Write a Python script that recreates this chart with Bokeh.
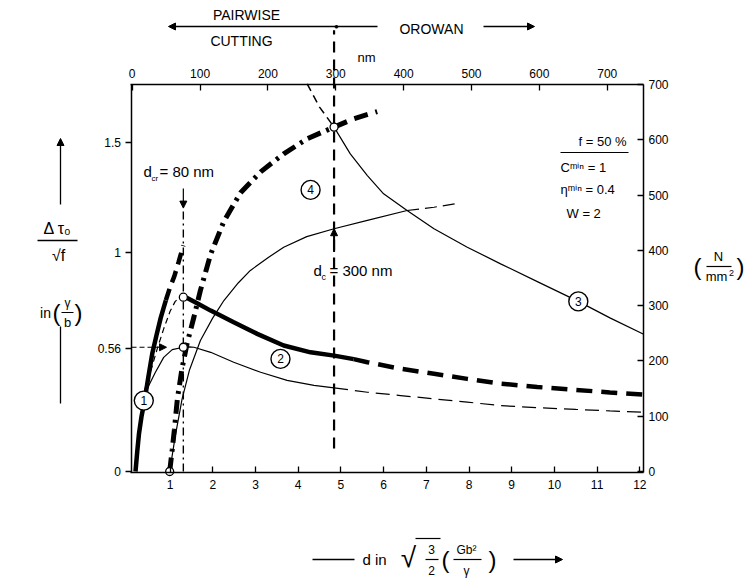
from bokeh.plotting import figure
from bokeh.models import (Range1d, LinearAxis, FixedTicker, Label, Arrow, NormalHead,
                          NumeralTickFormatter)
from bokeh.core.properties import value
from bokeh.embed import file_html
from bokeh.resources import INLINE

FONT = "Liberation Sans"

# ---------------- data ----------------
bottom_ticks = [1, 2, 3, 4, 5, 6, 7, 8, 9, 10, 11, 12]
top_nm_ticks = [0, 100, 200, 300, 400, 500, 600, 700]
left_ticks = [0, 0.56, 1, 1.5]
right_ticks = [0, 100, 200, 300, 400, 500, 600, 700]

# curve 1 (pairwise cutting, thick)
c1_solid_x = [0.19, 0.23, 0.27, 0.33, 0.40, 0.49, 0.58, 0.68, 0.78, 0.90]
c1_solid_y = [0.0, 0.09, 0.17, 0.25, 0.32, 0.43, 0.535, 0.62, 0.70, 0.78]
c1_dash_x = [0.90, 1.00, 1.10, 1.20, 1.31]
c1_dash_y = [0.78, 0.84, 0.89, 0.955, 1.03]

# curve 4 (thick dash-dot)
c4_x = [0.99, 1.05, 1.10, 1.17, 1.28, 1.40, 1.56, 1.71, 1.95, 2.26, 2.65, 3.12, 3.66, 4.21, 4.84]
c4_y = [0.0, 0.10, 0.19, 0.33, 0.47, 0.585, 0.705, 0.825, 0.99, 1.14, 1.27, 1.365, 1.447, 1.516, 1.569]
c4_dash_x = [4.84, 5.30, 5.85]
c4_dash_y = [1.569, 1.607, 1.64]

# thin rising curve
t_x = [0.99, 1.12, 1.28, 1.45, 1.71, 2.0, 2.26, 2.6, 2.88, 3.3, 3.66, 4.2, 4.84, 5.62, 6.55]
t_y = [0.0, 0.16, 0.33, 0.46, 0.597, 0.70, 0.779, 0.86, 0.916, 0.975, 1.022, 1.07, 1.106, 1.144, 1.189]
t_dash_x = [6.55, 7.18, 7.76]
t_dash_y = [1.189, 1.204, 1.222]

# curve 2 thick
c2_x = [1.31, 1.40, 1.60, 1.95, 2.49, 3.04, 3.66, 4.29, 4.84, 5.30]
c2_y = [0.794, 0.79, 0.77, 0.733, 0.68, 0.627, 0.574, 0.543, 0.528, 0.512]
c2_dash_x = [5.30, 5.62, 6.40, 7.18, 7.96, 8.74, 9.6, 10.5, 11.3, 12.09]
c2_dash_y = [0.512, 0.498, 0.468, 0.445, 0.422, 0.40, 0.385, 0.372, 0.36, 0.35]

# curve 2 thin
c2t_x = [1.31, 1.45, 1.56, 1.95, 2.49, 3.12, 3.74, 4.37, 4.84]
c2t_y = [0.566, 0.568, 0.566, 0.543, 0.498, 0.452, 0.415, 0.392, 0.381]
c2t_dash_x = [4.84, 5.62, 6.40, 7.18, 7.96, 8.74, 9.6, 10.5, 11.3, 12.09]
c2t_dash_y = [0.381, 0.361, 0.346, 0.331, 0.316, 0.30, 0.291, 0.283, 0.276, 0.27]

# curve 3 (Orowan)
c3_dash_x = [4.21, 4.50, 4.84]
c3_dash_y = [1.766, 1.66, 1.569]
c3_x = [4.84, 5.22, 5.62, 6.0, 6.55, 7.18, 7.96, 8.74, 9.6, 10.56, 11.3, 12.09]
c3_y = [1.569, 1.447, 1.348, 1.265, 1.189, 1.106, 1.022, 0.946, 0.865, 0.775, 0.70, 0.625]

# thin connectors from circle 1
k_dash_x = [0.40, 0.55, 0.70, 0.85, 1.00, 1.12, 1.22, 1.31]
k_dash_y = [0.37, 0.46, 0.56, 0.65, 0.73, 0.775, 0.79, 0.794]
k_sol_x = [0.42, 0.65, 0.85, 1.05, 1.31]
k_sol_y = [0.36, 0.45, 0.52, 0.555, 0.566]

# special points
pt_x = [1.31, 1.31, 0.99, 4.84]
pt_y = [0.794, 0.566, 0.0, 1.569]
d_crit_x = [1.31, 1.31]
d_crit_y = [0.0, 1.20]
d_c_x = [4.84, 4.84]
d_c_y = [0.105, 2.01]

num_x = [0.384, 3.585, 10.56, 4.29]
num_y = [0.323, 0.513, 0.775, 1.283]
num_t = ["1", "2", "3", "4"]

# ------------- geometry helpers (canvas px -> data, for annotation placement) -------------
X0PX, XS, Y0PX, YS = 126.9, 42.7, 471.0, 219.5
def cx(px):
    return (px - X0PX) / XS
def cy(py):
    return (Y0PX - py) / YS
def nm(px):
    return (px - 131.7) / 0.6786

TOP = cy(84)
NS = 700.0 / TOP
W, H = 749, 586

p = figure(width=W, height=H, output_backend="svg", toolbar_location=None,
           x_range=Range1d(cx(0), cx(W)), y_range=Range1d(cy(H), cy(0)),
           min_border=0, x_axis_location=None, y_axis_location=None)
p.grid.visible = False
p.outline_line_color = None
p.background_fill_color = "white"
p.border_fill_color = "white"
p.extra_x_ranges = {"nm": Range1d(nm(0), nm(W))}
p.extra_y_ranges = {"N": Range1d(cy(H) * NS, cy(0) * NS)}

def style_axis(ax, tin, tout, standoff=5):
    ax.axis_line_width = 1.5
    ax.axis_line_color = "black"
    ax.major_tick_in = tin
    ax.major_tick_out = tout
    ax.major_tick_line_width = 1.3
    ax.minor_tick_line_color = None
    ax.major_label_text_font = FONT
    ax.major_label_text_font_size = "12px"
    ax.major_label_text_color = "black"
    ax.major_label_standoff = standoff

xb = LinearAxis(ticker=FixedTicker(ticks=bottom_ticks), fixed_location=cy(471.5),
                bounds=(cx(130), cx(643)))
style_axis(xb, 6, 0, 8)
p.add_layout(xb, "below")
xt = LinearAxis(x_range_name="nm", ticker=FixedTicker(ticks=top_nm_ticks), fixed_location=TOP,
                bounds=(nm(130), nm(643)))
style_axis(xt, 6, 0, 7)
p.add_layout(xt, "above")
yl = LinearAxis(ticker=FixedTicker(ticks=left_ticks), formatter=NumeralTickFormatter(format="0.[00]"),
                fixed_location=cx(130.5), bounds=(cy(472), TOP))
style_axis(yl, 0, 6, 4)
p.add_layout(yl, "left")
yr = LinearAxis(y_range_name="N", ticker=FixedTicker(ticks=right_ticks), fixed_location=cx(643),
                bounds=(cy(472) * NS, 700))
style_axis(yr, 6, 0, 5)
p.add_layout(yr, "right")

K = "black"
THICK = 4.5
THIN = 1.2
# curves
p.line(c1_solid_x, c1_solid_y, line_width=THICK, color=K)
p.line(c1_dash_x, c1_dash_y, line_width=THICK, color=K, line_dash="12 7")
p.line(c4_x, c4_y, line_width=THICK + 0.5, color=K, line_dash="14 6 3 6")
p.line(c4_dash_x, c4_dash_y, line_width=THICK + 0.5, color=K, line_dash="14 8")
p.line(t_x, t_y, line_width=THIN, color=K)
p.line(t_dash_x, t_dash_y, line_width=THIN, color=K, line_dash="12 6")
p.line(c2_x, c2_y, line_width=THICK, color=K)
p.line(c2_dash_x, c2_dash_y, line_width=THICK, color=K, line_dash="16 9")
p.line(c2t_x, c2t_y, line_width=THIN, color=K)
p.line(c2t_dash_x, c2t_dash_y, line_width=THIN, color=K, line_dash="14 7")
p.line(c3_dash_x, c3_dash_y, line_width=1.5, color=K, line_dash="8 5")
p.line(c3_x, c3_y, line_width=THIN, color=K)
p.line(k_dash_x, k_dash_y, line_width=THIN, color=K, line_dash="6 4")
p.line(k_sol_x, k_sol_y, line_width=THIN, color=K)
p.line(d_crit_x, d_crit_y, line_width=1.4, color=K, line_dash="8 4 2 4")
p.line(d_c_x, d_c_y, line_width=2.2, color=K, line_dash="11 7")

p.scatter(pt_x, pt_y, size=8, fill_color="white", line_color=K, line_width=1.3)
p.scatter(num_x, num_y, size=19, fill_color="white", line_color=K, line_width=1.4)
p.text(num_x, num_y, text=num_t, text_font=value(FONT), text_font_size="12px",
       text_align="center", text_baseline="middle", text_color=K)

def HEAD(s=8):
    return NormalHead(size=s, fill_color=K, line_color=K, line_width=1)

def seg(x0, y0, x1, y1, width=1.2, dash="solid", end=None, start=None):
    p.add_layout(Arrow(x_start=x0, y_start=y0, x_end=x1, y_end=y1, line_width=width,
                       line_dash=dash, line_color=K, start=start, end=end))

def lab(x, y, text, size="13px", align="center", baseline="middle", style="normal"):
    p.add_layout(Label(x=x, y=y, text=text, text_font=FONT, text_font_size=size,
                       text_align=align, text_baseline=baseline, text_color=K,
                       text_font_style=style))

# arrows inside plot
seg(cx(131), 0.566, cx(166), 0.566, width=1.2, dash="5 3", end=HEAD(7))
seg(1.31, cy(188), 1.31, 1.20, width=1.2, end=HEAD(7))
seg(4.84, 1.0, 4.84, 1.106, width=2.0, end=HEAD(7))

# in-plot texts
lab(cx(143), cy(171), "d", "15px", align="left")
lab(cx(151), cy(178), "cr", "8px", align="left")
lab(cx(159), cy(171), "= 80 nm", "15px", align="left")
lab(cx(313), cy(270), "d", "15px", align="left")
lab(cx(321), cy(276), "c", "9px", align="left")
lab(cx(329), cy(270), "= 300 nm", "15px", align="left")

lab(cx(578), cy(141), "f = 50 %", "13px", align="left")
seg(cx(560), cy(152), cx(628), cy(152), width=1.2)
lab(cx(560), cy(167), "Cᵐⁱⁿ = 1", "13px", align="left")
lab(cx(560), cy(189), "ηᵐⁱⁿ = 0.4", "13px", align="left")
lab(cx(566), cy(213), "W = 2", "13px", align="left")

# header (above plot)
seg(cx(168), cy(26), cx(336), cy(26), width=1.3, start=HEAD(7))
seg(cx(336), cy(26), cx(377), cy(26), width=1.3)
seg(cx(483), cy(26), cx(534), cy(26), width=1.3, end=HEAD(7))
lab(cx(336), cy(26), "●", "8px")
lab(cx(246), cy(14), "PAIRWISE", "14px")
lab(cx(241), cy(40), "CUTTING", "14px")
lab(cx(431), cy(28), "OROWAN", "14px")
lab(cx(366), cy(57), "nm", "13px")

# left axis title
seg(cx(60), cy(204), cx(60), cy(138), width=1.3, end=HEAD(7))
lab(cx(57), cy(228), "Δ τ₀", "16px")
seg(cx(37), cy(240), cx(77), cy(240), width=1.3)
lab(cx(58), cy(255), "√f", "16px")
lab(cx(45), cy(312), "in", "14px")
lab(cx(56), cy(312), "(", "24px")
lab(cx(67), cy(302), "γ", "12px")
seg(cx(61), cy(312), cx(73), cy(312), width=1.2)
lab(cx(67), cy(322), "b", "13px")
lab(cx(78), cy(312), ")", "24px")
seg(cx(60), cy(326), cx(60), cy(403), width=1.3)

# right axis title
lab(cx(697), cy(266), "(", "24px")
lab(cx(718), cy(256), "N", "13px")
seg(cx(706), cy(266), cx(731), cy(266), width=1.2)
lab(cx(716), cy(276), "mm", "13px")
lab(cx(731), cy(272), "2", "9px")
lab(cx(740), cy(266), ")", "24px")

# bottom axis title
YB = 559
seg(cx(312), cy(YB), cx(354), cy(YB), width=1.3)
lab(cx(362), cy(YB), "d  in", "15px", align="left")
lab(cx(408), cy(YB - 2), "√", "28px")
seg(cx(415), cy(YB - 21), cx(440), cy(YB - 21), width=1.2)
lab(cx(431), cy(YB - 10), "3", "12px")
seg(cx(425), cy(YB), cx(438), cy(YB), width=1.2)
lab(cx(431), cy(YB + 11), "2", "12px")
lab(cx(445), cy(YB), "(", "24px")
lab(cx(466), cy(YB - 10), "Gb²", "12px")
seg(cx(453), cy(YB), cx(481), cy(YB), width=1.2)
lab(cx(466), cy(YB + 11), "γ", "12px")
lab(cx(492), cy(YB), ")", "24px")
seg(cx(513), cy(YB), cx(562), cy(YB), width=1.3, end=HEAD(7))

open("out.html", "w").write(file_html(p, INLINE))
